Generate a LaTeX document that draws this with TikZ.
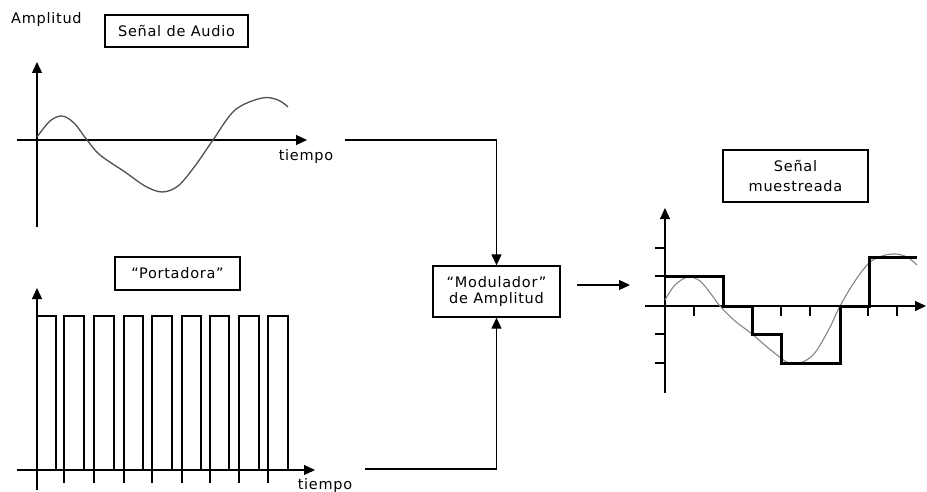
\documentclass[tikz,border=0pt]{standalone}
\usepackage{fontspec}
\setmainfont[LetterSpace=5]{DejaVu Sans}
\usetikzlibrary{arrows.meta}
\definecolor{curvegray}{HTML}{505050}
\definecolor{sinegray}{HTML}{858585}
\begin{document}
\begin{tikzpicture}[x=1pt,y=-1pt,
  lbl/.style={font=\fontsize{14.5}{16}\selectfont, inner sep=0pt},
  tbox/.style={draw, line width=1.3pt, inner sep=0pt, align=center},
  ax/.style={line width=1.2pt, -{Triangle[length=11pt,width=10pt]}},
  conn/.style={line width=1.2pt, -{Triangle[length=11pt,width=10pt]}},
  thinline/.style={line width=1.2pt},
  audiocurve/.style={line width=1.3pt, color=curvegray},
  sinecurve/.style={line width=1.1pt, color=sinegray},
  stair/.style={line width=3pt, line join=miter},
]
\useasboundingbox (0,0) rectangle (927,492);

% ---------- Audio signal ----------
\node[lbl, anchor=west] (amp) at (11,20) {Amplitud};
\node[tbox, minimum width=143, minimum height=32, font=\fontsize{14.5}{16}\selectfont] (audio) at (176.5,31) {Señal de Audio};
\draw[ax] (37,227) -- (37,62);
\draw[ax] (17,140) -- (307,140);
\node[lbl] (t1) at (306,156) {tiempo};
\draw[audiocurve] plot[smooth, tension=0.55] coordinates {(37,137) (50,121) (62,116) (74,123) (87,140) (100,155) (125,172) (145,186) (162,192) (178,186) (195,166) (213,140) (235,110) (262,98) (278,100) (288,107)};

% ---------- Carrier ----------
\node[tbox, minimum width=125, minimum height=33, font=\fontsize{14.5}{16}\selectfont] (carrier) at (177.5,273.5) {“Portadora”};
\draw[ax] (37,490) -- (37,288);
\draw[ax] (17,470) -- (315,470);
\foreach \l/\r in {37/56,64/84,94/114,124/143,152/172,182/201,210/229,239/259,268/288}
  \draw[thinline] (\l,470) -- (\l,316) -- (\r,316) -- (\r,470);
\foreach \l in {64,94,124,152,182,210,239,268}
  \draw[thinline] (\l,470) -- (\l,483);
\node[lbl] (t2) at (325,485) {tiempo};

% ---------- Modulator ----------
\node[tbox, minimum width=127, minimum height=51, font=\fontsize{14.5}{16}\selectfont] (mod) at (496.5,291.5) {“Modulador”\\de Amplitud};
\coordinate (a1) at (345,140);
\coordinate (c1) at (365,469);
\draw[conn] (a1) -| (mod.north);
\draw[conn] (c1) -| (mod.south);
\coordinate (o1) at (577,285);
\coordinate (o2) at (630,285);
\draw[conn] (o1) -- (o2);

% ---------- Sampled signal ----------
\node[tbox, minimum width=145, minimum height=52, font=\fontsize{14.5}{20}\selectfont] (sampled) at (795.5,176) {Señal\\muestreada};
\draw[ax] (665,393) -- (665,208);
\draw[ax] (645,306) -- (926,306);
\foreach \y in {248,276,334,363}
  \draw[thinline] (655,\y) -- (665,\y);
\foreach \x in {694,781,810,868,897}
  \draw[thinline] (\x,306) -- (\x,316);
\draw[sinecurve] plot[smooth, tension=0.55] coordinates {(665,300) (675,285) (688,277) (700,281) (711,294) (720,306) (735,321) (752,334) (772,351) (792,364) (812,356) (828,331) (840,306) (855,281) (869,263) (882,256) (895,254) (907,257) (917,265)};
\draw[stair] (665,276) -- (723,276) -- (723,306) -- (752,306) -- (752,334) -- (781,334) -- (781,363) -- (840,363) -- (840,306) -- (869,306) -- (869,257) -- (917,257);
\end{tikzpicture}
\end{document}
